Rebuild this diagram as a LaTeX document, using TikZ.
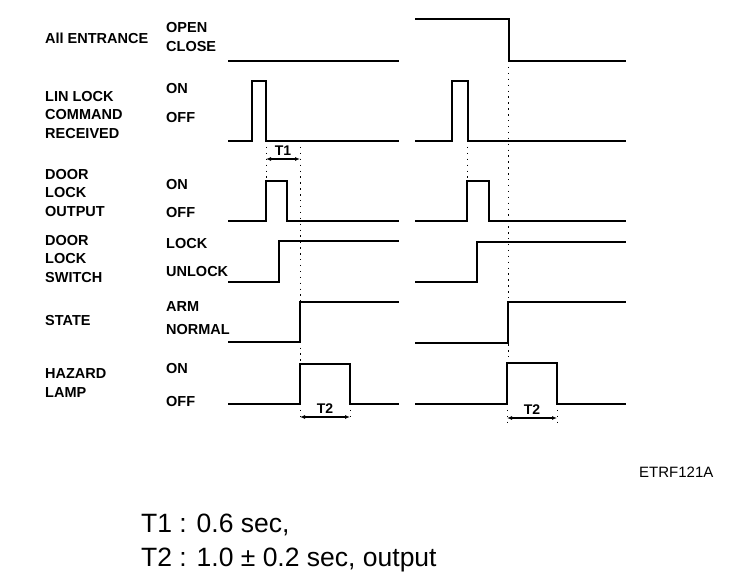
\documentclass[tikz,border=0pt]{standalone}
\usepackage{fontspec}
\setmainfont{Liberation Sans}
\usetikzlibrary{arrows.meta}

\begin{document}
\begin{tikzpicture}[
    x=1pt, y=-1pt,
    sig/.style={line width=1.8pt, line join=miter},
    guide/.style={line width=1pt, dash pattern=on 1.4pt off 4.5pt},
    dim/.style={{Latex[length=5pt,width=4pt]}-{Latex[length=5pt,width=4pt]}, line width=1.4pt},
    signame/.style={anchor=west, inner sep=0pt, align=left, font=\fontsize{14.5}{18.5}\selectfont\bfseries},
    level/.style={anchor=west, inner sep=0pt, font=\fontsize{14.5}{16}\selectfont\bfseries},
    tlabel/.style={above=-1pt, font=\fontsize{14}{16}\selectfont\bfseries},
    note/.style={anchor=west, inner sep=0pt, font=\fontsize{26.5}{30}\selectfont},
]
    \useasboundingbox (0,0) rectangle (752,586);

    % signal names
    \node[signame] (entr) at (45,38) {All ENTRANCE};
    \node[signame] (lin) at (45,115) {LIN LOCK\\COMMAND\\RECEIVED};
    \node[signame] (dlo) at (45,193) {DOOR\\LOCK\\OUTPUT};
    \node[signame] (dls) at (45,259) {DOOR\\LOCK\\SWITCH};
    \node[signame] (state) at (45,321) {STATE};
    \node[signame] (haz) at (45,383) {HAZARD\\LAMP};

    % levels
    \node[level] (open) at (166,28) {OPEN};
    \node[level] (close) at (166,47) {CLOSE};
    \node[level] (linon) at (166,89) {ON};
    \node[level] (linoff) at (166,118) {OFF};
    \node[level] (dloon) at (166,185) {ON};
    \node[level] (dlooff) at (166,213) {OFF};
    \node[level] (lock) at (166,244) {LOCK};
    \node[level] (unlock) at (166,272) {UNLOCK};
    \node[level] (arm) at (166,307) {ARM};
    \node[level] (normal) at (166,330) {NORMAL};
    \node[level] (hazon) at (166,369) {ON};
    \node[level] (hazoff) at (166,402) {OFF};

    % waveforms, first case
    \draw[sig] (228,61) -- (399,61);
    \draw[sig] (228,141) -- (252,141) -- (252,81) -- (266,81) -- (266,141) -- (399,141);
    \draw[sig] (228,221) -- (266,221) -- (266,181) -- (287,181) -- (287,221) -- (399,221);
    \draw[sig] (228,282) -- (279,282) -- (279,241) -- (399,241);
    \draw[sig] (228,342) -- (300,342) -- (300,302) -- (399,302);
    \draw[sig] (228,404) -- (300,404) -- (300,364) -- (350,364) -- (350,404) -- (399,404);

    % waveforms, second case
    \draw[sig] (415,19) -- (509,19) -- (509,61) -- (626,61);
    \draw[sig] (415,141) -- (452,141) -- (452,81) -- (468,81) -- (468,141) -- (626,141);
    \draw[sig] (415,221) -- (467,221) -- (467,181) -- (489,181) -- (489,221) -- (626,221);
    \draw[sig] (415,282) -- (477,282) -- (477,242) -- (626,242);
    \draw[sig] (415,343) -- (508,343) -- (508,302) -- (626,302);
    \draw[sig] (415,404) -- (507,404) -- (507,363) -- (557,363) -- (557,404) -- (626,404);

    % guides
    \draw[guide] (266,141) -- (266,181);
    \draw[guide] (300,141) -- (300,364);
    \draw[guide] (300,404) -- (300,421);
    \draw[guide] (350,404) -- (350,421);
    \draw[guide] (467,141) -- (467,181);
    \draw[guide] (508,61) -- (508,363);
    \draw[guide] (507,404) -- (507,422);
    \draw[guide] (557,404) -- (557,422);

    % timing arrows
    \coordinate (t1a) at (266,159);
    \coordinate (t1b) at (300,159);
    \draw[dim] (t1a) -- node[tlabel] (t1) {T1} (t1b);
    \coordinate (t2a) at (300,417);
    \coordinate (t2b) at (350,417);
    \draw[dim] (t2a) -- node[tlabel] (t2) {T2} (t2b);
    \coordinate (t2c) at (507,418);
    \coordinate (t2d) at (557,418);
    \draw[dim] (t2c) -- node[tlabel] (t2r) {T2} (t2d);

    % figure code and notes
    \node[anchor=west, inner sep=0pt, font=\fontsize{15}{16}\selectfont] (code) at (639,472) {ETRF121A};
    \node[note] (n1) at (141,525) {T1 : 0.6 sec,};
    \node[note] (n2) at (141,560) {T2 : 1.0 ± 0.2 sec, output};
\end{tikzpicture}
\end{document}
